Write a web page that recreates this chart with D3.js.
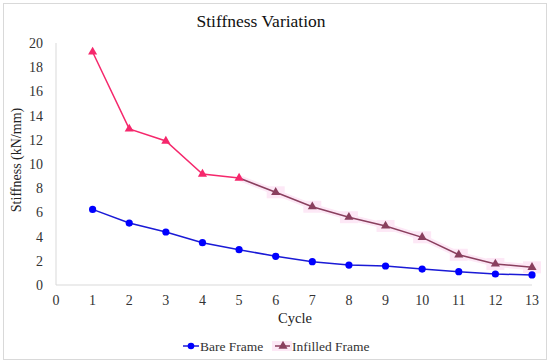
<!DOCTYPE html>
<html>
<head>
<meta charset="utf-8">
<script src="https://cdn.jsdelivr.net/npm/d3@7"></script>
<style>
  body { margin: 0; background: #fff; }
</style>
</head>
<body>
<svg id="chart" width="550" height="364"></svg>
<script>
const cycles = [1, 2, 3, 4, 5, 6, 7, 8, 9, 10, 11, 12, 13];
const bareFrame = [6.25, 5.12, 4.38, 3.5, 2.92, 2.37, 1.93, 1.65, 1.57, 1.32, 1.1, 0.91, 0.83];
const infilledFrame = [19.26, 12.9, 11.9, 9.17, 8.84, 7.66, 6.47, 5.6, 4.88, 3.94, 2.5, 1.74, 1.46];
const xTicks = [0, 1, 2, 3, 4, 5, 6, 7, 8, 9, 10, 11, 12, 13];
const yTicks = [0, 2, 4, 6, 8, 10, 12, 14, 16, 18, 20];

const svg = d3.select("#chart")
  .attr("font-family", "'Liberation Serif', 'Times New Roman', 'DejaVu Serif', serif");
const margin = {left: 56, right: 18, top: 43, bottom: 79};
const width = 550, height = 364;

// outer frame
svg.append("rect")
  .attr("x", 3.5).attr("y", 3.5).attr("width", 543).attr("height", 356)
  .attr("fill", "#fff").attr("stroke", "#d9d9d9");

const x = d3.scaleLinear().domain([0, 13]).range([margin.left, width - margin.right]);
const y = d3.scaleLinear().domain([0, 20]).range([height - margin.bottom, margin.top]);

// axes lines
svg.append("line")
  .attr("x1", x(0)).attr("x2", x(0)).attr("y1", y(0)).attr("y2", y(20))
  .attr("stroke", "#d9d9d9");
svg.append("line")
  .attr("x1", x(0)).attr("x2", x(13)).attr("y1", y(0)).attr("y2", y(0))
  .attr("stroke", "#d9d9d9");

svg.selectAll(".ytick").data(yTicks).enter().append("text")
  .attr("x", x(0) - 13).attr("y", d => y(d)).attr("dy", "0.35em")
  .attr("text-anchor", "end").attr("font-size", 14).attr("fill", "#333")
  .text(d => d);

svg.selectAll(".xtick").data(xTicks).enter().append("text")
  .attr("x", d => x(d)).attr("y", y(0) + 20)
  .attr("text-anchor", "middle").attr("font-size", 14).attr("fill", "#333")
  .text(d => d);

svg.append("text")
  .attr("x", 261).attr("y", 27).attr("text-anchor", "middle")
  .attr("font-size", 17.5).attr("fill", "#111").text("Stiffness Variation");

svg.append("text")
  .attr("transform", `translate(21,160) rotate(-90)`)
  .attr("text-anchor", "middle").attr("font-size", 14).attr("fill", "#222")
  .text("Stiffness (kN/mm)");

svg.append("text")
  .attr("x", 295).attr("y", 323).attr("text-anchor", "middle")
  .attr("font-size", 14.5).attr("fill", "#222").text("Cycle");

const line = d3.line().x(d => x(d[0])).y(d => y(d[1]));
const bare = cycles.map((c, i) => [c, bareFrame[i]]);
const inf = cycles.map((c, i) => [c, infilledFrame[i]]);

const pink = "#f5286c", brown = "#8a3f5e", glow = "#fde8f6";

// infilled: faint glow on the later part, pinkish first part
const later = inf.slice(4);
svg.append("path").attr("d", line(later)).attr("fill", "none")
  .attr("stroke", glow).attr("stroke-width", 6).attr("stroke-linejoin", "round");
svg.selectAll(".glowpt").data(inf.slice(5)).enter().append("rect")
  .attr("x", d => x(d[0]) - 9).attr("y", d => y(d[1]) - 6)
  .attr("width", 18).attr("height", 12).attr("fill", glow);
svg.append("path").attr("d", line(inf.slice(0, 5))).attr("fill", "none")
  .attr("stroke", pink).attr("stroke-width", 1.5);
svg.append("path").attr("d", line(later)).attr("fill", "none")
  .attr("stroke", brown).attr("stroke-width", 1.5);

const tri = d3.symbol().type(d3.symbolTriangle).size(36);
svg.selectAll(".tri").data(inf).enter().append("path")
  .attr("d", tri)
  .attr("transform", d => `translate(${x(d[0])},${y(d[1])})`)
  .attr("fill", (d, i) => i < 5 ? pink : brown);

svg.append("path").attr("d", line(bare)).attr("fill", "none")
  .attr("stroke", "#1a1ad6").attr("stroke-width", 1.5);
svg.selectAll(".dot").data(bare).enter().append("circle")
  .attr("cx", d => x(d[0])).attr("cy", d => y(d[1])).attr("r", 3.6)
  .attr("fill", "#0000ff");

// legend
const ly = 346;
svg.append("line").attr("x1", 183).attr("x2", 199).attr("y1", ly).attr("y2", ly)
  .attr("stroke", "#1a1ad6").attr("stroke-width", 1.5);
svg.append("circle").attr("cx", 191).attr("cy", ly).attr("r", 3.3).attr("fill", "#0000ff");
svg.append("text").attr("x", 200).attr("y", ly).attr("dy", "0.35em")
  .attr("font-size", 13.5).attr("fill", "#333").text("Bare Frame");

svg.append("rect").attr("x", 272).attr("y", ly - 5).attr("width", 20).attr("height", 10).attr("fill", glow);
svg.append("line").attr("x1", 275).attr("x2", 290).attr("y1", ly).attr("y2", ly)
  .attr("stroke", brown).attr("stroke-width", 1.5);
svg.append("path").attr("d", tri).attr("transform", `translate(283,${ly})`).attr("fill", brown);
svg.append("text").attr("x", 292).attr("y", ly).attr("dy", "0.35em")
  .attr("font-size", 13.5).attr("fill", "#333").text("Infilled Frame");
</script>
</body>
</html>
